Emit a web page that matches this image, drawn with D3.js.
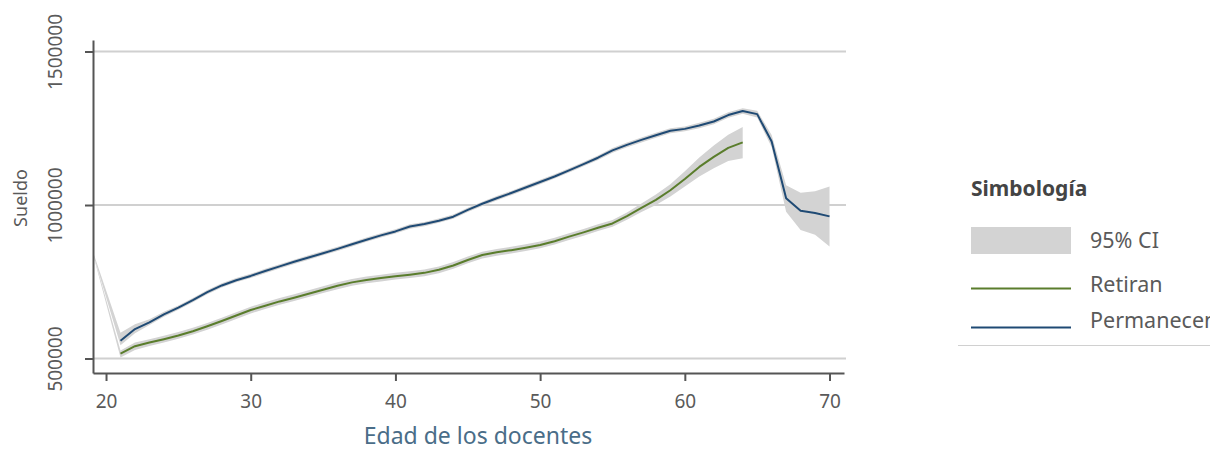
<!DOCTYPE html>
<html>
<head>
<meta charset="utf-8">
<script src="https://cdn.jsdelivr.net/npm/d3@7"></script>
<style>
  body { margin: 0; background: #fff; }
  svg { font-family: "Noto Sans", "Open Sans", sans-serif; }
</style>
</head>
<body>
<svg width="1210" height="450"></svg>
<script>
// Sueldo en miles de pesos, por edad
const edadesPermanecen = d3.range(21, 71);
const permanecen = [558, 596, 618, 644, 666, 690, 716, 738, 755, 769, 785, 800, 815, 829, 843, 857, 872, 887, 901, 914,
    930, 938, 949, 962, 984, 1004, 1022, 1039, 1057, 1075, 1093, 1113, 1133, 1154, 1178, 1196, 1212, 1227, 1242, 1248,
    1259, 1272, 1293, 1306, 1296, 1207, 1022, 981, 974, 963];
const ciEdadesPermanecen = [19, ...edadesPermanecen];
const permanecenLow = [857, 543, 582, 609, 636, 659, 683, 709, 731, 748, 762, 778, 793, 808, 822, 836, 850, 865, 880, 894, 907,
    923, 931, 942, 955, 977, 997, 1015, 1032, 1050, 1068, 1086, 1106, 1126, 1147, 1170, 1188, 1204, 1219, 1234, 1240,
    1250, 1263, 1284, 1297, 1285, 1188, 978, 919, 903, 865];
const permanecenHigh = [861, 584, 612, 628, 652, 673, 697, 723, 745, 762, 776, 792, 807, 822, 836, 850, 864, 879, 894, 908, 921,
    937, 945, 956, 969, 991, 1011, 1029, 1046, 1064, 1082, 1100, 1120, 1140, 1161, 1186, 1204, 1220, 1235, 1250, 1256,
    1268, 1281, 1302, 1315, 1307, 1228, 1064, 1040, 1045, 1060];

const edadesRetiran = d3.range(21, 65);
const retiran = [516, 540, 552, 563, 575, 589, 605, 622, 640, 658, 672, 686, 698, 711, 724, 737, 748, 756, 762, 768,
    773, 779, 789, 803, 821, 837, 846, 853, 861, 870, 882, 897, 911, 926, 940, 964, 991, 1017, 1048, 1085,
    1124, 1157, 1186, 1204];
const ciEdadesRetiran = [19, ...edadesRetiran];
const retiranLow = [857, 503, 528, 541, 552, 564, 578, 594, 611, 629, 647, 661, 675, 687, 700, 713, 726, 737, 745, 751, 757,
    762, 768, 778, 792, 810, 826, 835, 842, 850, 859, 871, 886, 900, 915, 929, 952, 977, 1000, 1028, 1060,
    1093, 1120, 1143, 1152];
const retiranHigh = [861, 526, 552, 563, 574, 586, 600, 616, 633, 651, 669, 683, 697, 709, 722, 735, 748, 759, 767, 773, 779,
    784, 790, 800, 814, 832, 848, 857, 864, 872, 881, 893, 908, 922, 937, 951, 976, 1005, 1034, 1068, 1110,
    1155, 1194, 1229, 1254];

const xTicks = [20, 30, 40, 50, 60, 70];
const yTicks = [500, 1000, 1500];
const legendLabels = ['95% CI', 'Retiran', 'Permanecen'];

const bandColor = '#d3d3d3';
const green = '#5a7d2c';
const blue = '#1f4a74';
const axisColor = '#555';
const textColor = '#5a5a5a';

const svg = d3.select('svg');
const plot = { left: 93, right: 844, top: 40, bottom: 373 };

const x = d3.scaleLinear().domain([19.1, 71]).range([plot.left, plot.right]);
const y = d3.scaleLinear().domain([452.8, 1537.5]).range([plot.bottom, plot.top]);

svg.append('clipPath').attr('id', 'clip')
    .append('rect')
    .attr('x', plot.left + 1).attr('y', plot.top)
    .attr('width', plot.right - plot.left).attr('height', plot.bottom - plot.top);

//gridlines
svg.append('g').selectAll('line').data(yTicks)
    .enter().append('line')
    .attr('x1', plot.left).attr('x2', plot.right + 2)
    .attr('y1', d => y(d)).attr('y2', d => y(d))
    .attr('stroke', '#d0d0d0').attr('stroke-width', 2);

const g = svg.append('g').attr('clip-path', 'url(#clip)');

const band = (edades, low, high) => d3.area()
    .x((_d, i) => x(edades[i]))
    .y0((_d, i) => y(low[i]))
    .y1((_d, i) => y(high[i]))(low);

const line = (edades, vals) => d3.line()
    .x((_d, i) => x(edades[i]))
    .y(d => y(d))(vals);

g.append('path').attr('d', band(ciEdadesPermanecen, permanecenLow, permanecenHigh)).attr('fill', bandColor);
g.append('path').attr('d', band(ciEdadesRetiran, retiranLow, retiranHigh)).attr('fill', bandColor);

g.append('path').attr('d', line(edadesRetiran, retiran))
    .attr('fill', 'none').attr('stroke', green).attr('stroke-width', 2).attr('stroke-linejoin', 'round');
g.append('path').attr('d', line(edadesPermanecen, permanecen))
    .attr('fill', 'none').attr('stroke', blue).attr('stroke-width', 2).attr('stroke-linejoin', 'round');

//axes
const xAxis = svg.append('g').attr('transform', `translate(0, ${plot.bottom})`)
    .call(d3.axisBottom(x).tickValues(xTicks).tickSize(8).tickSizeOuter(0));
xAxis.selectAll('text').attr('y', 35).attr('dy', 0);

const yAxis = svg.append('g').attr('transform', `translate(${plot.left}, 0)`)
    .call(d3.axisLeft(y).tickValues(yTicks).tickSize(8).tickSizeOuter(0).tickFormat(d => d3.format('d')(d * 1000)));
yAxis.selectAll('text')
    .attr('transform', 'rotate(-90)')
    .attr('x', 0).attr('y', -38).attr('dy', '0.35em')
    .attr('text-anchor', 'middle');

[xAxis, yAxis].forEach(a => {
    a.select('.domain').attr('stroke', axisColor).attr('stroke-width', 2);
    a.selectAll('.tick line').attr('stroke', axisColor).attr('stroke-width', 2);
    a.selectAll('text').attr('fill', textColor).style('font-size', '19px').style('font-family', '"Noto Sans", sans-serif');
});

svg.append('text')
    .attr('transform', 'translate(27, 198) rotate(-90)')
    .attr('text-anchor', 'middle')
    .attr('fill', textColor).style('font-size', '18px')
    .text('Sueldo');

svg.append('text')
    .attr('x', 478).attr('y', 444)
    .attr('text-anchor', 'middle')
    .attr('fill', '#4a6d88').style('font-size', '23px')
    .text('Edad de los docentes');

//legend
const legend = svg.append('g');
legend.append('text')
    .attr('x', 971).attr('y', 196)
    .attr('fill', '#444').style('font-size', '21px').style('font-weight', 'bold')
    .text('Simbología');

legend.append('rect')
    .attr('x', 971).attr('y', 227).attr('width', 100).attr('height', 27)
    .attr('fill', bandColor);
legend.append('line')
    .attr('x1', 971).attr('x2', 1071).attr('y1', 288.5).attr('y2', 288.5)
    .attr('stroke', green).attr('stroke-width', 2);
legend.append('line')
    .attr('x1', 971).attr('x2', 1071).attr('y1', 327.5).attr('y2', 327.5)
    .attr('stroke', blue).attr('stroke-width', 2);

legend.selectAll('.ltext').data(legendLabels)
    .enter().append('text')
    .attr('class', 'ltext')
    .attr('x', 1090)
    .attr('y', (_d, i) => [248, 292, 328][i])
    .attr('fill', textColor).style('font-size', '21.5px')
    .text(d => d);

legend.append('line')
    .attr('x1', 958).attr('x2', 1210).attr('y1', 345.5).attr('y2', 345.5)
    .attr('stroke', '#d0d0d0').attr('stroke-width', 1);
</script>
</body>
</html>
